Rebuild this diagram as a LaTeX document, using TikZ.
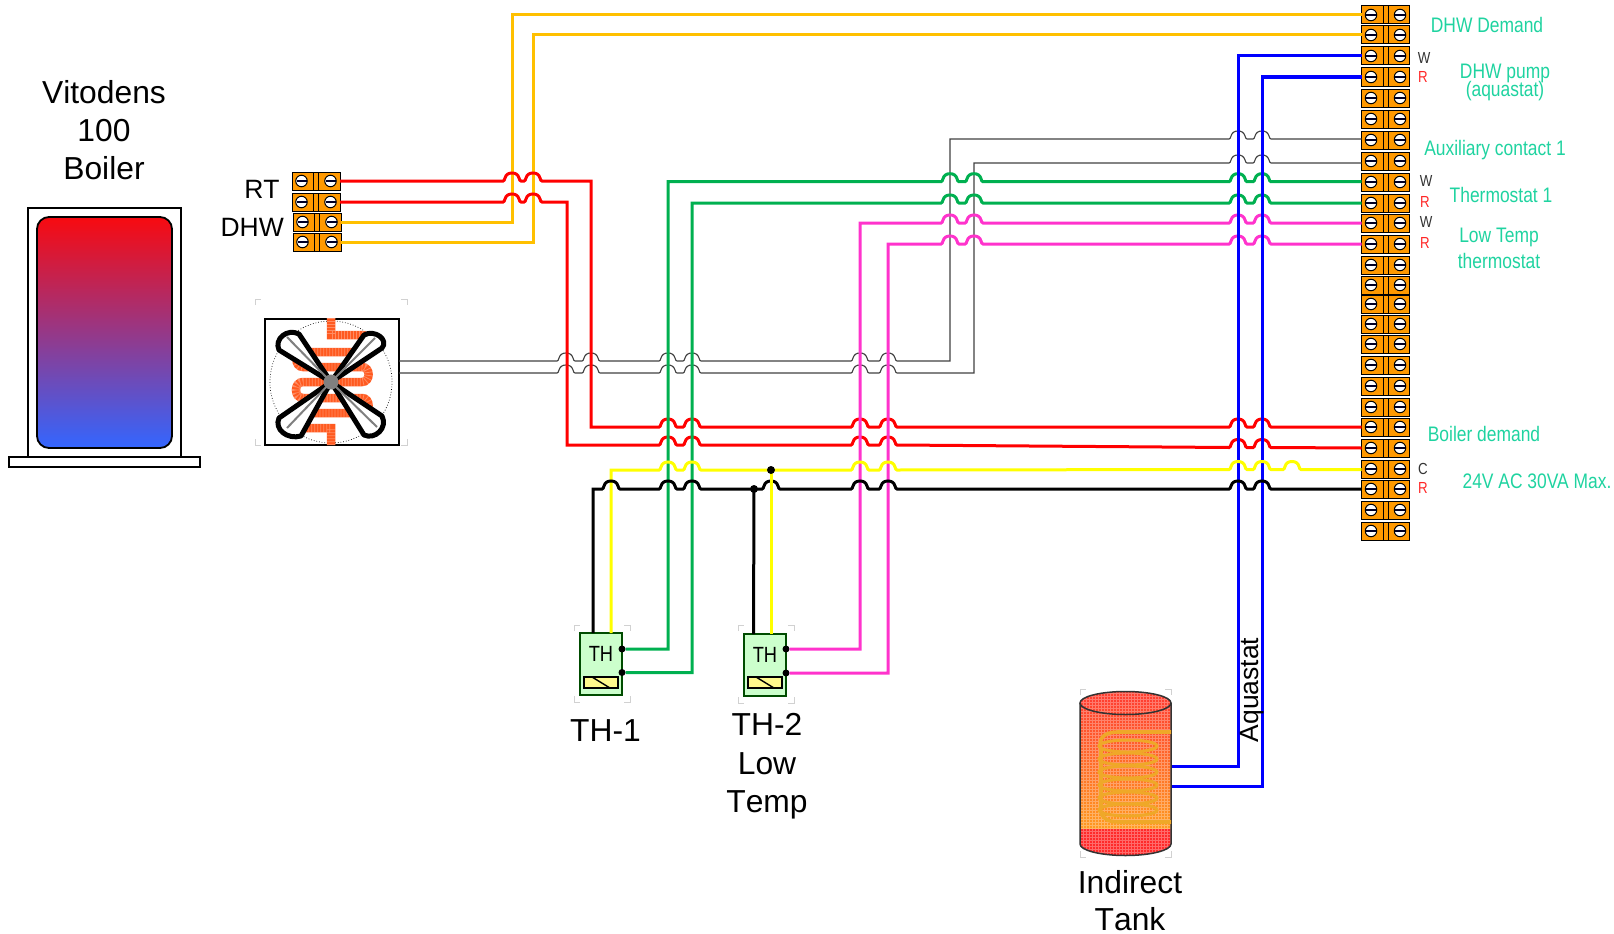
\documentclass[tikz,border=0pt]{standalone}
\usepackage{fontspec}
\setmainfont[Kerning=Off]{Liberation Sans}
\newfontfamily\labc[FakeStretch=0.83]{Liberation Sans}
\definecolor{wamber}{HTML}{FFC000}
\definecolor{wred}{HTML}{FF0000}
\definecolor{wgreen}{HTML}{00B050}
\definecolor{wpink}{HTML}{FF33CC}
\definecolor{wblue}{HTML}{0000FF}
\definecolor{wyel}{HTML}{FFFF00}
\definecolor{wgray}{HTML}{404040}
\definecolor{labgreen}{HTML}{1FD3A0}
\definecolor{termor}{HTML}{FF9900}
\definecolor{coilred}{HTML}{FF5A20}
\definecolor{tankcoil}{HTML}{EFA828}
\definecolor{boilred}{HTML}{F80A10}
\definecolor{boilblue}{HTML}{3366FF}
\definecolor{tanktop}{HTML}{FF4030}
\definecolor{tankmid}{HTML}{FF9A20}
\definecolor{tankbot}{HTML}{FF2A2A}
\newcommand{\jumps}[2]{foreach \jx in {#2} {-- (\jx-9,#1) .. controls (\jx-7.7,#1) and (\jx-7.6,#1-1.5) .. (\jx-7,#1-3) .. controls (\jx-6,#1-6.5) and (\jx-3.5,#1-8) .. (\jx,#1-8) .. controls (\jx+3.5,#1-8) and (\jx+6,#1-6.5) .. (\jx+7,#1-3) .. controls (\jx+7.6,#1-1.5) and (\jx+7.7,#1) .. (\jx+9,#1)}}
\newcommand{\terminal}[3]{%
  \node[term] (#1) at (#2,#3) {};
  \draw[line width=.8pt] (#2-2.5,#3-9) -- (#2-2.5,#3+9) (#2+2.5,#3-9) -- (#2+2.5,#3+9);
  \node[screw] at (#2-14.5,#3) {};
  \node[screw] at (#2+14.5,#3) {};
  \draw[line width=1.5pt,black!85!blue] (#2-19.5,#3) -- (#2-9.5,#3) (#2+9.5,#3) -- (#2+19.5,#3);
}
\newcommand{\cornermarks}[4]{%
  \draw[cmark] (#1,#2+6) -- (#1,#2) -- (#1+6,#2);
  \draw[cmark] (#3-6,#2) -- (#3,#2) -- (#3,#2+6);
  \draw[cmark] (#1,#4-6) -- (#1,#4) -- (#1+6,#4);
  \draw[cmark] (#3-6,#4) -- (#3,#4) -- (#3,#4-6);
}
\newcommand{\fancoil}{(331,318) -- (331,335) -- (362,335) to[out=0,in=0,looseness=1.5] (362,352) -- (303,352) to[out=180,in=180,looseness=1.5] (303,367) -- (362,367) to[out=0,in=0,looseness=1.5] (362,382) -- (303,382) to[out=180,in=180,looseness=1.5] (303,398) -- (362,398) to[out=0,in=0,looseness=1.5] (362,413) -- (303,413) to[out=180,in=180,looseness=1.5] (303,428) -- (331,428) -- (331,445)}
\tikzset{
  term/.style={draw=black,line width=1pt,fill=termor,minimum width=48pt,minimum height=18pt,inner sep=0pt,outer sep=0pt},
  screw/.style={circle,draw=black,line width=1pt,fill=white,minimum size=11.5pt,inner sep=0pt},
  wire/.style={line width=3pt,line join=miter},
  thin wire/.style={line width=1.1pt,draw=wgray},
  cmark/.style={draw=black!18,line width=1pt},
  dotn/.style={circle,fill=black,minimum size=7pt,inner sep=0pt},
  thbox/.style={draw=black!70!green,line width=1.2pt,fill=green!20,minimum width=42pt,minimum height=62pt,inner sep=0pt,outer sep=0pt},
  big/.style={font=\fontsize{31.8}{38}\selectfont,text=black,anchor=base,inner sep=0pt},
  mid/.style={font=\fontsize{26.5}{30}\selectfont,text=black,anchor=base,inner sep=0pt},
  glab/.style={font=\labc\fontsize{21}{24}\selectfont,text=labgreen,anchor=base,inner sep=0pt},
  wlab/.style={font=\labc\fontsize{16}{18}\selectfont,text=black!80,inner sep=0pt},
  rlab/.style={font=\labc\fontsize{16}{18}\selectfont,text=red!85,inner sep=0pt},
}
\begin{document}
\begin{tikzpicture}[x=1pt,y=-1pt]
\useasboundingbox (0,0) rectangle (1614,934);
% boiler
\node[draw=black,line width=2pt,fill=white,minimum width=153pt,minimum height=249pt,inner sep=0pt,outer sep=0pt] (boiler) at (104.5,332) {};
\node[draw=black,line width=2pt,fill=white,minimum width=191pt,minimum height=10pt,inner sep=0pt,outer sep=0pt] (boilerbase) at (104.5,462) {};
\shade[draw=black,line width=1.8pt,rounded corners=12pt,top color=boilred,bottom color=boilblue] (37,217) rectangle (172,448);
\node[big] (v1) at (104,103) {Vitodens};
\node[big] (v2) at (104,141) {100};
\node[big] (v3) at (104,179.5) {Boiler};
\node[mid] (rt) at (262,198) {RT};
\node[mid,anchor=base east] (dhw) at (284,236) {DHW};
% left terminal block
\terminal{tla}{316}{181}
\terminal{tlb}{316}{202}
\terminal{tlc}{317}{222}
\terminal{tld}{317}{242}
% right terminal strip
\foreach \i/\yy in {1/15,2/35,3/56,4/77,5/98,6/119,7/140,8/161,9/182,10/203,11/223,12/244,13/265,14/285,15/304,16/324,17/344,18/365,19/386,20/407,21/427,22/448,23/469,24/489,25/510,26/531}{
  \terminal{r\i}{1385.5}{\yy}
}
% fan
\cornermarks{255}{299}{407}{445}
\node[draw=black,line width=2pt,fill=white,minimum width=134pt,minimum height=126pt,inner sep=0pt,outer sep=0pt] (fan) at (331.5,381.5) {};
\node[draw=black,dotted,line width=.7pt,circle,minimum size=122pt,inner sep=0pt] (fancircle) at (331,382) {};
\draw[coilred,line width=8.5pt] \fancoil;
\draw[white,opacity=.3,line width=8.5pt,dash pattern=on .8pt off 2.2pt] \fancoil;
\begin{scope}[line width=5pt,line join=round,draw=black,fill=white]
\filldraw (331,382) -- (299,334) .. controls (287,328) and (274,339) .. (279,350) -- cycle;
\filldraw (331,382) -- (364,335) .. controls (375,329) and (389,340) .. (382,348) -- cycle;
\filldraw (331,382) -- (279,418) .. controls (274,429) and (287,440) .. (301,436) -- cycle;
\filldraw (331,382) -- (364,435) .. controls (375,440) and (388,428) .. (382,416) -- cycle;
\end{scope}
\draw[black!50,line width=2pt] (287,337) -- (331,382) -- (375,338) (287,428) -- (331,382) -- (377,427);
\node[circle,fill=black!50,minimum size=15pt,inner sep=0pt] (hub) at (331,382) {};
\coordinate (ga) at (399,361);
\coordinate (gb) at (399,373);
% thin grey wires
\draw[thin wire] (ga) \jumps{361}{566,591,668,692,860,888} -- (950,361) -- (950,139) \jumps{139}{1238,1262} -- (r7.west |- 0,139);
\draw[thin wire] (gb) \jumps{373}{566,591,668,692,860,888} -- (974,373) -- (974,163) \jumps{163}{1238,1262} -- (r8.west |- 0,163);
% amber DHW
\draw[wire,wamber] (tlc.east) -- (512,222) -- (512,15) -- (r1.west);
\draw[wire,wamber] (tld.east) -- (533,242) -- (533,35) -- (r2.west);
% red
\draw[wire,wred] (tla.east) \jumps{181}{512,533} -- (591,181) -- (591,427) \jumps{427}{668,692,860,888,1238,1262} -- (r21.west);
\draw[wire,wred] (tlb.east) \jumps{202}{512,533} -- (567,202) -- (567,445) \jumps{445}{668,692,860,888} \jumps{447.5}{1238,1262} -- (r22.west);
% TH boxes
\cornermarks{574}{625}{630}{702}
\cornermarks{738}{625}{794}{703}
\node[thbox] (tha) at (601,664) {};
\node[thbox] (thb) at (765,665) {};
\node[font=\labc\fontsize{22}{24}\selectfont,inner sep=0pt] (thatext) at (601,653.5) {TH};
\node[font=\labc\fontsize{22}{24}\selectfont,inner sep=0pt] (thbtext) at (765,654.5) {TH};
\draw[line width=1.1pt,fill=yellow!45] (584,677) rectangle (618,688);
\draw[line width=1.4pt] (592,677) -- (610,688);
\draw[line width=1.1pt,fill=yellow!45] (748,677) rectangle (782,688);
\draw[line width=1.4pt] (756,677) -- (774,688);
\node[dotn] (tha1) at (622,649) {};
\node[dotn] (tha2) at (622,672.5) {};
\node[dotn] (thb1) at (786,649) {};
\node[dotn] (thb2) at (786,673) {};
% junctions
\coordinate (jy) at (771,470);
\coordinate (jb) at (754,489);
% green
\draw[wire,wgreen] (tha1) -- (668,649) -- (668,181.7) \jumps{181.7}{950,974,1238,1262} -- (r9.west |- 0,181.7);
\draw[wire,wgreen] (tha2) -- (692,672.5) -- (692,203) \jumps{203}{950,974,1238,1262} -- (r10.west);
% pink
\draw[wire,wpink] (thb1) -- (860,649) -- (860,223) \jumps{223}{950,974,1238,1262} -- (r11.west);
\draw[wire,wpink] (thb2) -- (888,673) -- (888,244) \jumps{244}{950,974,1238,1262} -- (r12.west);
% blue
\coordinate (tanka) at (1171,766);
\coordinate (tankb) at (1171,786);
\draw[wire,wblue] (tanka) -- (1238,766) -- (1238,56) -- (r3.west);
\draw[wire,wblue] (tankb) -- (1262,786) -- (1262,77) -- (r4.west);
% 24V yellow and black
\draw[wire,wyel] (611,633) -- (611,470) \jumps{470}{668,692,860,888} \jumps{469.5}{1238,1262,1292} -- (r23.west |- 0,469.5);
\draw[wire,black] (593,633) -- (593,489) \jumps{489}{611,668,692,771,860,888,1238,1262} -- (r24.west);
\draw[wire,wyel] (771,634) -- (jy);
\draw[wire,black] (753.5,634) -- (jb);
\node[dotn,minimum size=8pt] (jyn) at (jy) {};
\node[dotn,minimum size=8pt] (jbn) at (jb) {};
% tank
\cornermarks{1080}{689}{1171}{857}
\begin{scope}
\clip (1080,703) arc[start angle=180,end angle=0,x radius=45.5,y radius=-11.5] -- (1171,844) arc[start angle=0,end angle=180,x radius=45.5,y radius=11.5] -- cycle;
\shade[top color=tanktop,bottom color=tankmid] (1078,700) rectangle (1173,829);
\fill[tanktop] (1078,688) rectangle (1173,702);
\fill[tankbot] (1078,829) rectangle (1173,858);
\draw[white,line width=.5pt,opacity=.3,step=3pt] (1078,688) grid (1173,858);
\end{scope}
\draw[black!80,line width=1.5pt] (1080,703) -- (1080,844) arc[start angle=180,end angle=0,x radius=45.5,y radius=11.5] -- (1171,703);
\draw[black!80,line width=1.5pt] (1125.5,703) ellipse[x radius=45.5,y radius=11.5];
% tank coil
\foreach \yy in {746,759,772,785,798,810}{
  \draw[tankcoil,line width=3pt] (1128,\yy) ellipse[x radius=29,y radius=6];
}
\draw[tankcoil,line width=3.6pt] (1171,732) -- (1118,732) .. controls (1100,732) and (1099,742) .. (1101,748) -- (1101,806) .. controls (1099,815) and (1105,822) .. (1118,822) -- (1171,822);
% texts
\node[big] (tha label) at (605.5,741) {TH-1};
\node[big] (thb1 label) at (767,735.5) {TH-2};
\node[big] (thb2 label) at (767,774) {Low};
\node[big] (thb3 label) at (767,812) {Temp};
\node[big] (ind1) at (1130,893) {Indirect};
\node[big] (ind2) at (1130,930) {Tank};
\node[mid,rotate=90] (aq) at (1258,690) {Aquastat};
\node[glab] (l1) at (1487,33) {DHW Demand};
\node[glab] (l2) at (1505,78) {DHW pump};
\node[glab] (l3) at (1505,96) {(aquastat)};
\node[glab] (l4) at (1495,155) {Auxiliary contact 1};
\node[glab] (l5) at (1501,202) {Thermostat 1};
\node[glab] (l6) at (1499,242) {Low Temp};
\node[glab] (l7) at (1499,268) {thermostat};
\node[glab] (l8) at (1484,441) {Boiler demand};
\node[glab] (l9) at (1537,488) {24V AC 30VA Max.};
\node[wlab] (w1) at (1424,58) {W};
\node[rlab] (ra) at (1423,77) {R};
\node[wlab] (w2) at (1426,181) {W};
\node[rlab] (rb) at (1425,202) {R};
\node[wlab] (w3) at (1426,222) {W};
\node[rlab] (rc) at (1425,243) {R};
\node[wlab] (c1) at (1423,469) {C};
\node[rlab] (rd) at (1423,488) {R};
\end{tikzpicture}
\end{document}
